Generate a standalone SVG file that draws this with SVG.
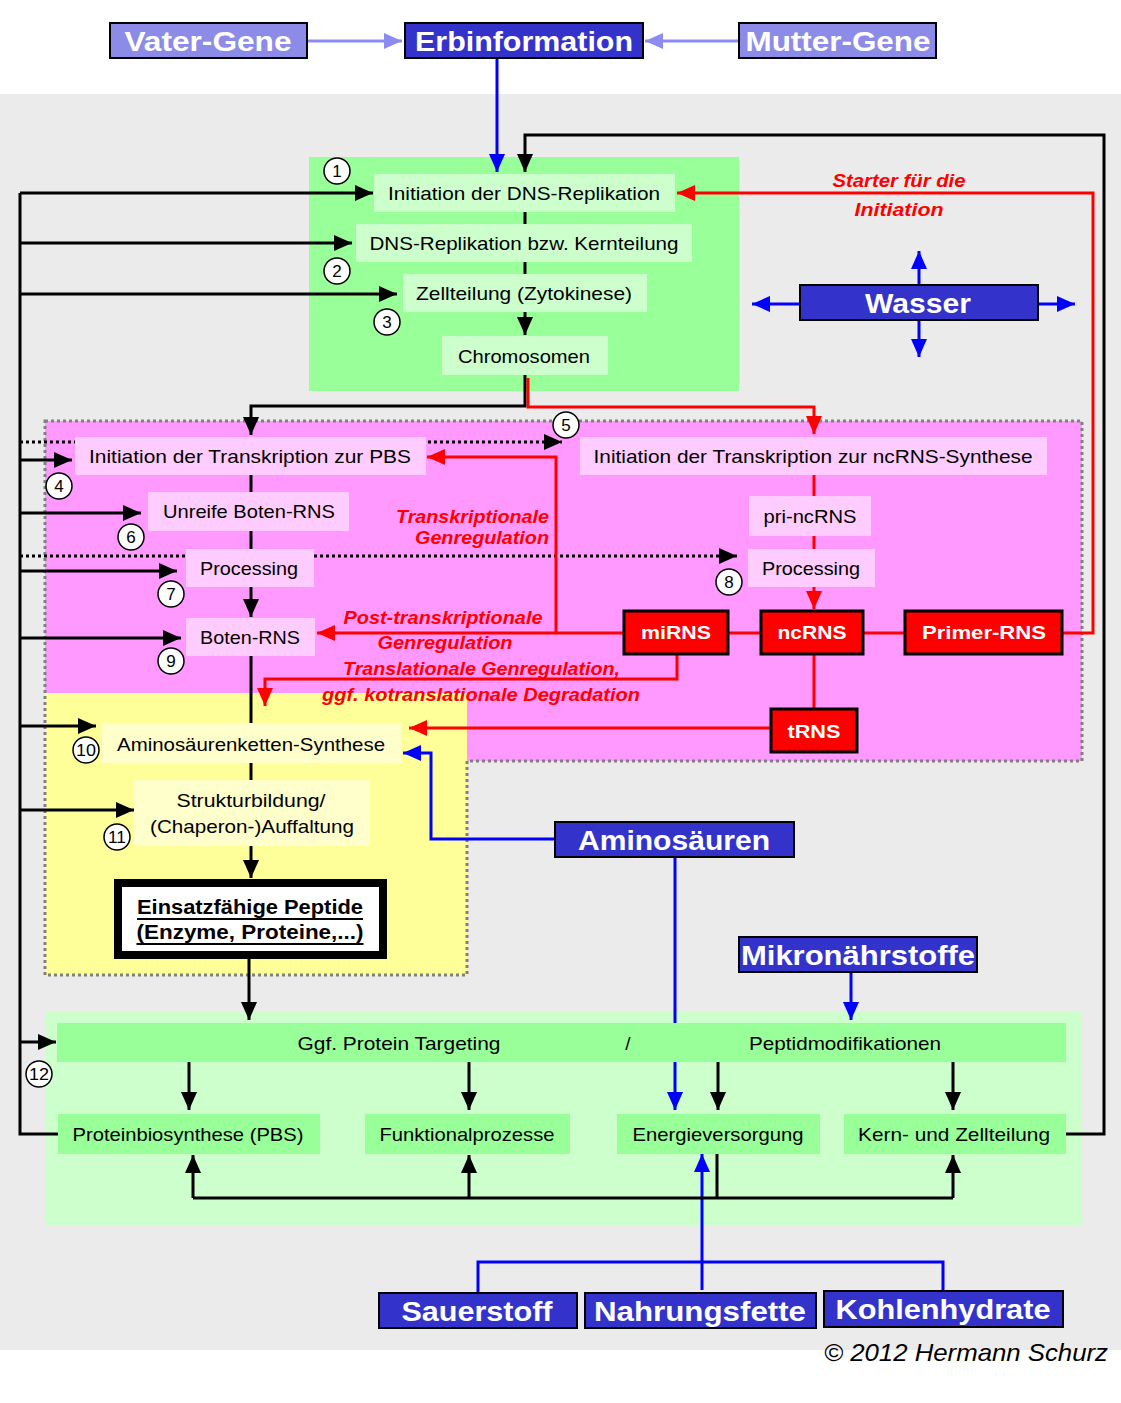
<svg xmlns="http://www.w3.org/2000/svg" width="1121" height="1403" viewBox="0 0 1121 1403">
<defs>
<style>
.t{font-family:"Liberation Sans",Arial,sans-serif;font-size:19px;fill:#000;text-anchor:middle;dominant-baseline:central}
.hb{font-family:"Liberation Sans",Arial,sans-serif;font-weight:bold;font-size:28px;fill:#fff;text-anchor:middle;dominant-baseline:central}
.rb{font-family:"Liberation Sans",Arial,sans-serif;font-weight:bold;font-size:19px;fill:#fff;text-anchor:middle;dominant-baseline:central}
.ri{font-family:"Liberation Sans",Arial,sans-serif;font-weight:bold;font-style:italic;font-size:19px;fill:#ff0000;dominant-baseline:central}
.eb{font-family:"Liberation Sans",Arial,sans-serif;font-weight:bold;font-size:20px;fill:#000;text-anchor:middle;dominant-baseline:central;text-decoration:underline}
.num{font-family:"Liberation Sans",Arial,sans-serif;font-size:17px;fill:#000;text-anchor:middle;dominant-baseline:central}
.k{stroke:#000;stroke-width:3;fill:none}
.kd{stroke:#000;stroke-width:3;fill:none;stroke-dasharray:3 3}
.r{stroke:#ff0000;stroke-width:3;fill:none}
.b{stroke:#0000ff;stroke-width:3;fill:none}
.lp{stroke:#8c8cf0;stroke-width:3;fill:none}
.gb{fill:#ccffcc}
.pb{fill:#ffccff}
.yb{fill:#ffffcc}
.g2{fill:#99ff99}
.blue{fill:#3333cc;stroke:#000;stroke-width:2}
.lblue{fill:#8c8ce8;stroke:#000;stroke-width:2}
.red{fill:#ff0000;stroke:#000;stroke-width:3}
.circ{fill:#fff;stroke:#000;stroke-width:1.5}
</style>
<marker id="ak" markerUnits="userSpaceOnUse" markerWidth="20" markerHeight="18" refX="18" refY="8" orient="auto"><path d="M0,0 L18,8 L0,16 z" fill="#000"/></marker>
<marker id="ar" markerUnits="userSpaceOnUse" markerWidth="20" markerHeight="18" refX="18" refY="8" orient="auto"><path d="M0,0 L18,8 L0,16 z" fill="#ff0000"/></marker>
<marker id="ab" markerUnits="userSpaceOnUse" markerWidth="20" markerHeight="18" refX="18" refY="8" orient="auto"><path d="M0,0 L18,8 L0,16 z" fill="#0000ff"/></marker>
<marker id="alp" markerUnits="userSpaceOnUse" markerWidth="20" markerHeight="18" refX="18" refY="8" orient="auto"><path d="M0,0 L18,8 L0,16 z" fill="#8c8cf0"/></marker>
</defs>

<rect width="1121" height="1403" fill="#fff"/>
<rect x="0" y="94" width="1121" height="1256" fill="#ebebeb"/>

<g id="regions">
<rect x="309" y="157" width="430" height="234" fill="#99ff99"/>
<rect x="45" y="421" width="1037" height="340" fill="#ff99ff"/>
<rect x="45" y="693" width="422" height="282" fill="#ffff99"/>
<path d="M45,421 H1082 V761 H467 V975 H45 Z" fill="none" stroke="#808080" stroke-width="3" stroke-dasharray="3 3"/>
<rect x="46" y="1012" width="1036" height="213" fill="#ccffcc"/>
</g>

<g id="connectors">
<path class="lp" d="M307,41 H402" marker-end="url(#alp)"/>
<path class="lp" d="M739,41 H645" marker-end="url(#alp)"/>
<path class="b" d="M497,58 V172" marker-end="url(#ab)"/>
<path class="k" d="M1066,1134 H1104 V135 H525 V172" marker-end="url(#ak)"/>
<path class="k" d="M58,1134 H20 V193"/>
<path class="k" d="M20,193 H373" marker-end="url(#ak)"/>
<path class="k" d="M20,243 H352" marker-end="url(#ak)"/>
<path class="k" d="M20,294 H397" marker-end="url(#ak)"/>
<path class="k" d="M20,460 H72" marker-end="url(#ak)"/>
<path class="k" d="M20,513 H141" marker-end="url(#ak)"/>
<path class="k" d="M20,571 H177" marker-end="url(#ak)"/>
<path class="k" d="M20,638 H181" marker-end="url(#ak)"/>
<path class="k" d="M20,726 H96" marker-end="url(#ak)"/>
<path class="k" d="M20,810 H134" marker-end="url(#ak)"/>
<path class="k" d="M20,1042 H56" marker-end="url(#ak)"/>
<path class="kd" d="M20,442 H562" marker-end="url(#ak)"/>
<path class="kd" d="M20,556 H737" marker-end="url(#ak)"/>
<path class="k" d="M525,212 V335" marker-end="url(#ak)"/>
<path class="k" d="M525,375 V406 H251 V435" marker-end="url(#ak)"/>
<path class="r" d="M528,378 V407 H814 V434" marker-end="url(#ar)"/>
<path class="k" d="M251,475 V617" marker-end="url(#ak)"/>
<path class="k" d="M251,656 V878" marker-end="url(#ak)"/>
<path class="k" d="M249,959 V1020" marker-end="url(#ak)"/>
<path class="r" d="M814,475 V609" marker-end="url(#ar)"/>
<path class="r" d="M814,654 V709"/>
<path class="r" d="M1062,633 H1093 V193 H677" marker-end="url(#ar)"/>
<path class="r" d="M624,633 H317" marker-end="url(#ar)"/>
<path class="r" d="M556,633 V457 H427" marker-end="url(#ar)"/>
<path class="r" d="M728,633 H761 M863,633 H905"/>
<path class="r" d="M677,654 V679 H265 V706" marker-end="url(#ar)"/>
<path class="r" d="M771,728 H409" marker-end="url(#ar)"/>
<path class="b" d="M555,839 H431 V753 H403" marker-end="url(#ab)"/>
<path class="b" d="M675,857 V1110" marker-end="url(#ab)"/>
<path class="b" d="M851,972 V1020" marker-end="url(#ab)"/>
<path class="b" d="M702,1290 V1154" marker-end="url(#ab)"/>
<path class="b" d="M478,1293 V1262 H943 V1291"/>
<path class="b" d="M919,285 V251" marker-end="url(#ab)"/>
<path class="b" d="M919,320 V357" marker-end="url(#ab)"/>
<path class="b" d="M800,304 H752" marker-end="url(#ab)"/>
<path class="b" d="M1038,304 H1075" marker-end="url(#ab)"/>
<path class="k" d="M189,1062 V1110" marker-end="url(#ak)"/>
<path class="k" d="M469,1062 V1110" marker-end="url(#ak)"/>
<path class="k" d="M718,1062 V1110" marker-end="url(#ak)"/>
<path class="k" d="M953,1062 V1110" marker-end="url(#ak)"/>
<path class="k" d="M193,1198 H953"/>
<path class="k" d="M193,1198 V1155" marker-end="url(#ak)"/>
<path class="k" d="M469,1198 V1155" marker-end="url(#ak)"/>
<path class="k" d="M953,1198 V1155" marker-end="url(#ak)"/>
<path class="k" d="M717,1154 V1198"/>
</g>

<g id="vater-gene"><rect class="lblue" x="110" y="23" width="197" height="35"/><text class="hb" x="208" y="41" textLength="167" lengthAdjust="spacingAndGlyphs">Vater-Gene</text></g>
<g id="erbinformation"><rect class="blue" x="405" y="23" width="238" height="35"/><text class="hb" x="524" y="41" textLength="218" lengthAdjust="spacingAndGlyphs">Erbinformation</text></g>
<g id="mutter-gene"><rect class="lblue" x="739" y="23" width="197" height="35"/><text class="hb" x="838" y="41" textLength="185" lengthAdjust="spacingAndGlyphs">Mutter-Gene</text></g>

<g id="dna-init"><rect class="gb" x="374" y="174" width="301" height="38"/><text class="t" x="524" y="193" textLength="272" lengthAdjust="spacingAndGlyphs">Initiation der DNS-Replikation</text></g>
<g id="dna-rep"><rect class="gb" x="356" y="224" width="336" height="38"/><text class="t" x="524" y="243" textLength="309" lengthAdjust="spacingAndGlyphs">DNS-Replikation bzw. Kernteilung</text></g>
<g id="zellteilung"><rect class="gb" x="403" y="274" width="244" height="38"/><text class="t" x="524" y="293" textLength="216" lengthAdjust="spacingAndGlyphs">Zellteilung (Zytokinese)</text></g>
<g id="chromosomen"><rect class="gb" x="442" y="336" width="166" height="39"/><text class="t" x="524" y="356" textLength="132" lengthAdjust="spacingAndGlyphs">Chromosomen</text></g>

<g id="starter-label"><text class="ri" x="899" y="180" text-anchor="middle" textLength="133" lengthAdjust="spacingAndGlyphs">Starter für die</text><text class="ri" x="899" y="209" text-anchor="middle" textLength="89" lengthAdjust="spacingAndGlyphs">Initiation</text></g>
<g id="wasser"><rect class="blue" x="800" y="285" width="238" height="35"/><text class="hb" x="918" y="303" textLength="106" lengthAdjust="spacingAndGlyphs">Wasser</text></g>

<g id="trans-pbs"><rect class="pb" x="75" y="437" width="351" height="38"/><text class="t" x="250" y="456" textLength="322" lengthAdjust="spacingAndGlyphs">Initiation der Transkription zur PBS</text></g>
<g id="unreife"><rect class="pb" x="148" y="492" width="201" height="39"/><text class="t" x="249" y="511" textLength="172" lengthAdjust="spacingAndGlyphs">Unreife Boten-RNS</text></g>
<g id="processing-1"><rect class="pb" x="186" y="549" width="128" height="38"/><text class="t" x="249" y="568" textLength="98" lengthAdjust="spacingAndGlyphs">Processing</text></g>
<g id="boten-rns"><rect class="pb" x="186" y="618" width="129" height="38"/><text class="t" x="250" y="637" textLength="100" lengthAdjust="spacingAndGlyphs">Boten-RNS</text></g>
<g id="trans-nc"><rect class="pb" x="580" y="437" width="467" height="38"/><text class="t" x="813" y="456" textLength="439" lengthAdjust="spacingAndGlyphs">Initiation der Transkription zur ncRNS-Synthese</text></g>
<g id="pri-ncrns"><rect class="pb" x="749" y="496" width="122" height="40"/><text class="t" x="810" y="516" textLength="93" lengthAdjust="spacingAndGlyphs">pri-ncRNS</text></g>
<g id="processing-2"><rect class="pb" x="748" y="549" width="127" height="38"/><text class="t" x="811" y="568" textLength="98" lengthAdjust="spacingAndGlyphs">Processing</text></g>

<g id="mirns"><rect class="red" x="624" y="611" width="104" height="43"/><text class="rb" x="676" y="632" textLength="70" lengthAdjust="spacingAndGlyphs">miRNS</text></g>
<g id="ncrns"><rect class="red" x="761" y="611" width="102" height="43"/><text class="rb" x="812" y="632" textLength="69" lengthAdjust="spacingAndGlyphs">ncRNS</text></g>
<g id="primer-rns"><rect class="red" x="905" y="611" width="157" height="43"/><text class="rb" x="984" y="632" textLength="124" lengthAdjust="spacingAndGlyphs">Primer-RNS</text></g>
<g id="trns"><rect class="red" x="771" y="709" width="86" height="43"/><text class="rb" x="814" y="731" textLength="53" lengthAdjust="spacingAndGlyphs">tRNS</text></g>

<g id="reg-labels">
<text class="ri" x="549" y="516" text-anchor="end" textLength="153" lengthAdjust="spacingAndGlyphs">Transkriptionale</text>
<text class="ri" x="549" y="537" text-anchor="end" textLength="134" lengthAdjust="spacingAndGlyphs">Genregulation</text>
<text class="ri" x="443" y="617" text-anchor="middle" textLength="199" lengthAdjust="spacingAndGlyphs">Post-transkriptionale</text>
<text class="ri" x="445" y="642" text-anchor="middle" textLength="135" lengthAdjust="spacingAndGlyphs">Genregulation</text>
<text class="ri" x="343" y="668" textLength="277" lengthAdjust="spacingAndGlyphs">Translationale Genregulation,</text>
<text class="ri" x="322" y="694" textLength="318" lengthAdjust="spacingAndGlyphs">ggf. kotranslationale Degradation</text>
</g>

<g id="amino-synthese"><rect class="yb" x="102" y="723" width="300" height="40"/><text class="t" x="251" y="744" textLength="268" lengthAdjust="spacingAndGlyphs">Aminosäurenketten-Synthese</text></g>
<g id="struktur"><rect class="yb" x="134" y="780" width="236" height="66"/><text class="t" x="251" y="800" textLength="149" lengthAdjust="spacingAndGlyphs">Strukturbildung/</text><text class="t" x="252" y="826" textLength="204" lengthAdjust="spacingAndGlyphs">(Chaperon-)Auffaltung</text></g>
<g id="einsatz"><rect x="118" y="883" width="265" height="72" fill="#fff" stroke="#000" stroke-width="8"/><text class="eb" x="250" y="907" textLength="226" lengthAdjust="spacingAndGlyphs">Einsatzfähige Peptide</text><text class="eb" x="250" y="932" textLength="227" lengthAdjust="spacingAndGlyphs">(Enzyme, Proteine,...)</text></g>

<g id="aminosaeuren"><rect class="blue" x="555" y="822" width="239" height="35"/><text class="hb" x="674" y="840" textLength="192" lengthAdjust="spacingAndGlyphs">Aminosäuren</text></g>
<g id="mikro"><rect class="blue" x="739" y="937" width="238" height="35"/><text class="hb" x="858" y="955" textLength="234" lengthAdjust="spacingAndGlyphs">Mikronährstoffe</text></g>

<g id="targeting"><rect class="g2" x="57" y="1023" width="1009" height="39"/><text class="t" x="399" y="1043" textLength="203" lengthAdjust="spacingAndGlyphs">Ggf. Protein Targeting</text><text class="t" x="628" y="1043">/</text><text class="t" x="845" y="1043" textLength="192" lengthAdjust="spacingAndGlyphs">Peptidmodifikationen</text></g>
<g id="pbs"><rect class="g2" x="58" y="1114" width="262" height="40"/><text class="t" x="188" y="1134" textLength="231" lengthAdjust="spacingAndGlyphs">Proteinbiosynthese (PBS)</text></g>
<g id="funktional"><rect class="g2" x="365" y="1114" width="205" height="40"/><text class="t" x="467" y="1134" textLength="175" lengthAdjust="spacingAndGlyphs">Funktionalprozesse</text></g>
<g id="energie"><rect class="g2" x="617" y="1114" width="203" height="40"/><text class="t" x="718" y="1134" textLength="171" lengthAdjust="spacingAndGlyphs">Energieversorgung</text></g>
<g id="kern"><rect class="g2" x="844" y="1114" width="222" height="40"/><text class="t" x="954" y="1134" textLength="192" lengthAdjust="spacingAndGlyphs">Kern- und Zellteilung</text></g>

<g id="sauerstoff"><rect class="blue" x="379" y="1293" width="198" height="35"/><text class="hb" x="477" y="1311" textLength="151" lengthAdjust="spacingAndGlyphs">Sauerstoff</text></g>
<g id="nahrungsfette"><rect class="blue" x="585" y="1293" width="231" height="35"/><text class="hb" x="700" y="1311" textLength="212" lengthAdjust="spacingAndGlyphs">Nahrungsfette</text></g>
<g id="kohlenhydrate"><rect class="blue" x="824" y="1291" width="239" height="36"/><text class="hb" x="943" y="1309" textLength="215" lengthAdjust="spacingAndGlyphs">Kohlenhydrate</text></g>

<g id="numbers">
<circle class="circ" cx="337" cy="171" r="13"/><text class="num" x="337" y="171">1</text>
<circle class="circ" cx="337" cy="271" r="13"/><text class="num" x="337" y="271">2</text>
<circle class="circ" cx="387" cy="322" r="13"/><text class="num" x="387" y="322">3</text>
<circle class="circ" cx="59" cy="486" r="13"/><text class="num" x="59" y="486">4</text>
<circle class="circ" cx="566" cy="425" r="13"/><text class="num" x="566" y="425">5</text>
<circle class="circ" cx="131" cy="537" r="13"/><text class="num" x="131" y="537">6</text>
<circle class="circ" cx="171" cy="594" r="13"/><text class="num" x="171" y="594">7</text>
<circle class="circ" cx="729" cy="582" r="13"/><text class="num" x="729" y="582">8</text>
<circle class="circ" cx="171" cy="661" r="13"/><text class="num" x="171" y="661">9</text>
<circle class="circ" cx="86" cy="750" r="13"/><text class="num" x="86" y="750" textLength="20" lengthAdjust="spacingAndGlyphs">10</text>
<circle class="circ" cx="117" cy="837" r="13"/><text class="num" x="117" y="837" textLength="18" lengthAdjust="spacingAndGlyphs">11</text>
<circle class="circ" cx="39" cy="1074" r="13"/><text class="num" x="39" y="1074" textLength="20" lengthAdjust="spacingAndGlyphs">12</text>
</g>

<text x="966" y="1352" style="font-family:'Liberation Sans',Arial,sans-serif;font-style:italic;font-size:24px;fill:#000;text-anchor:middle;dominant-baseline:central" textLength="284" lengthAdjust="spacingAndGlyphs">© 2012 Hermann Schurz</text>
</svg>
